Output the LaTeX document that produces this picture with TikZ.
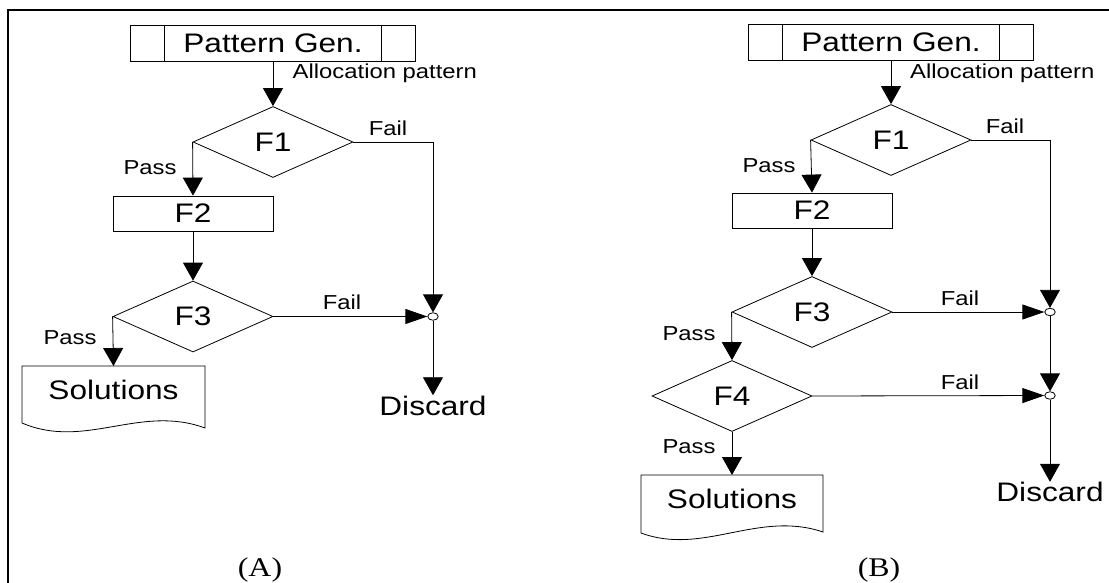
\documentclass[tikz,border=0pt]{standalone}
\usepackage{fontspec}
\setmainfont{Liberation Sans}[FakeStretch=1.18]
\newfontfamily\capfont{Liberation Serif}[FakeStretch=1.18]
\usetikzlibrary{shapes.geometric,arrows.meta}

\begin{document}
\begin{tikzpicture}[x=1pt,y=-1pt,line width=0.8pt,
    big/.style={font=\fontsize{26.8}{30}\selectfont},
    small/.style={font=\fontsize{20.2}{22}\selectfont},
    procbox/.style={draw,rectangle,inner sep=0,minimum height=36pt,big},
    test/.style={draw,diamond,inner sep=0,minimum width=160pt,minimum height=71pt,big},
    docbox/.style={inner sep=0,minimum width=183pt,minimum height=48pt,big},
    junc/.style={draw,fill=white,ellipse,inner sep=0,minimum width=10.5pt,minimum height=7.5pt},
    arrv/.style={-{Triangle[length=18pt,width=20pt]}},
    arrh/.style={-{Triangle[length=22pt,width=15pt]}}]
    \useasboundingbox (0,0) rectangle (1109,583);
    % Frame
    \draw[line width=2.3pt] (8,590) -- (8,10) -- (1115,10);

    % Flow (A)
    \node[procbox,minimum width=285.5pt] (pgA) at (273,43) {Pattern Gen.};
    \draw ([xshift=34.5pt]pgA.north west) -- ([xshift=34.5pt]pgA.south west);
    \draw ([xshift=-34.5pt]pgA.north east) -- ([xshift=-34.5pt]pgA.south east);
    \node[test] (f1A) at (273,142) {F1};
    \node[procbox,minimum width=160pt,minimum height=35pt] (f2A) at (193,213.5) {F2};
    \node[test] (f3A) at (193,316.5) {F3};
    \draw (205,366) -- (205,428) .. controls (140,404) and (85,450) .. (22,423) -- (22,366) -- cycle;
    \node[docbox,anchor=north] (solA) at (113.5,366) {Solutions};
    \node[junc] (jA) at (433,316.5) {};
    \node[big,inner sep=0] (discA) at (433,405.5) {Discard};
    \draw[arrv] (pgA) -- (f1A);
    \draw[arrv] (f1A.west) -- (f2A.north);
    \draw[arrv] (f2A) -- (f3A);
    \draw[arrv] (f1A.east) -| (jA);
    \draw[arrh] (f3A.east) -- (jA);
    \draw[arrv] (f3A.west) -- (solA.north);
    \draw[arrv] (jA) -- (discA);
    \node[small,anchor=west] (allocA) at (289,73) {Allocation pattern};
    \node[small] (fail1A) at (388,128) {Fail};
    \node[small] (pass1A) at (150,168) {Pass};
    \node[small] (fail3A) at (342,302.5) {Fail};
    \node[small] (pass3A) at (70,338) {Pass};
    \node[font=\capfont\fontsize{27}{30}\selectfont] (capA) at (260,570) {(A)};

    % Flow (B)
    \node[procbox,minimum width=285.5pt] (pgB) at (891,42.5) {Pattern Gen.};
    \draw ([xshift=34.5pt]pgB.north west) -- ([xshift=34.5pt]pgB.south west);
    \draw ([xshift=-34.5pt]pgB.north east) -- ([xshift=-34.5pt]pgB.south east);
    \node[test] (f1B) at (891,140) {F1};
    \node[procbox,minimum width=160pt,minimum height=35pt] (f2B) at (812,210.5) {F2};
    \node[test] (f3B) at (812,312) {F3};
    \node[test] (f4B) at (732,396) {F4};
    \draw (823,475) -- (823,532) .. controls (758,510) and (703,556) .. (641,533) -- (641,475) -- cycle;
    \node[docbox,anchor=north] (solB) at (732,475) {Solutions};
    \node[junc] (j1B) at (1050,312) {};
    \node[junc] (j2B) at (1050,395.5) {};
    \node[big,inner sep=0] (discB) at (1050,492) {Discard};
    \draw[arrv] (pgB) -- (f1B);
    \draw[arrv] (f1B.west) -- (f2B.north);
    \draw[arrv] (f2B) -- (f3B);
    \draw[arrv] (f3B.west) -- (f4B.north);
    \draw[arrv] (f4B.south) -- (solB.north);
    \draw[arrv] (f1B.east) -| (j1B);
    \draw[arrh] (f3B.east) -- (j1B);
    \draw[arrv] (j1B) -- (j2B);
    \draw[arrh] (f4B.east) -- (j2B);
    \draw[arrv] (j2B) -- (discB);
    \node[small,anchor=west] (allocB) at (906.5,73) {Allocation pattern};
    \node[small] (fail1B) at (1005,126) {Fail};
    \node[small] (pass1B) at (769,166) {Pass};
    \node[small] (fail3B) at (960,298) {Fail};
    \node[small] (pass3B) at (689,334) {Pass};
    \node[small] (fail4B) at (960,382) {Fail};
    \node[small] (pass4B) at (689,447) {Pass};
    \node[font=\capfont\fontsize{27}{30}\selectfont] (capB) at (879,570) {(B)};
\end{tikzpicture}
\end{document}
